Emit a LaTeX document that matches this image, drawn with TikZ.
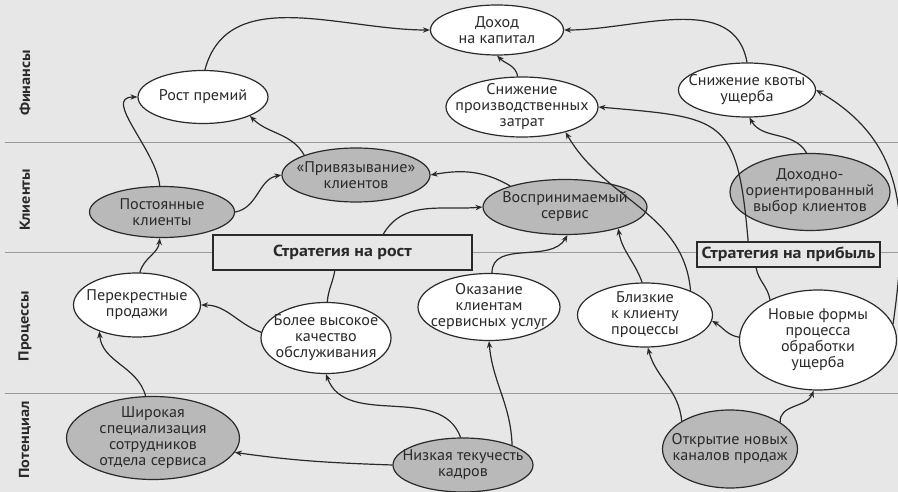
\documentclass[tikz,border=0pt]{standalone}
\usepackage{fontspec}
\setmainfont{PT Sans}[FakeStretch=1.04]
\newfontfamily\heavyfont{PT Sans}[FakeStretch=1.12]
\usetikzlibrary{shapes.geometric,arrows.meta}
\definecolor{bg}{HTML}{E7E7E7}
\definecolor{gfill}{HTML}{B9B9B9}
\definecolor{ink}{HTML}{2A2A2A}
\definecolor{lanec}{HTML}{9A9A9A}
\begin{document}
\begin{tikzpicture}[x=1pt,y=-1pt,
  ell/.style={ellipse,draw=ink,line width=1.2pt,inner sep=0pt,fill=white},
  gell/.style={ell,fill=gfill},
  txt/.style={align=center,font=\fontsize{15.5}{16}\selectfont,text=ink,inner sep=0pt},
  conn/.style={draw=ink,line width=1.2pt,-{Stealth[length=7pt,width=5.5pt]}},
  plain/.style={draw=ink,line width=1.2pt},
  stratbox/.style={draw=ink,line width=1.2pt,fill=bg,font=\fontsize{16}{18}\heavyfont\bfseries,text=ink,inner sep=0pt},
  lanelbl/.style={rotate=90,font=\fontsize{14.5}{16}\heavyfont\bfseries,text=ink}
]
\fill[bg] (0,0) rectangle (898,492);
\useasboundingbox (0,0) rectangle (898,492);
% lanes
\draw[lanec,line width=1pt] (5,143) -- (898,143);
\draw[lanec,line width=1pt] (5,253) -- (898,253);
\draw[lanec,line width=1pt] (5,393) -- (898,393);
\node[lanelbl] (lfin) at (25,83) {Финансы};
\node[lanelbl] (lcli) at (25,200) {Клиенты};
\node[lanelbl] (lpro) at (25,326) {Процессы};
\node[lanelbl] (lpot) at (25,440) {Потенциал};

% nodes
\node[ell,minimum width=133,minimum height=50,label={[txt]center:Доход\\на капитал}] (dk) at (497,30) {};
\node[ell,minimum width=130,minimum height=53,label={[txt]center:Рост премий}] (rp) at (203,97) {};
\node[ell,minimum width=152,minimum height=60,label={[txt]center:Снижение\\производственных\\затрат}] (spz) at (522,107) {};
\node[ell,minimum width=137,minimum height=54,label={[txt]center:Снижение квоты\\ущерба}] (skv) at (747,90) {};
\node[gell,minimum width=148,minimum height=54,label={[txt]center:«Привязывание»\\клиентов}] (prv) at (356,175) {};
\node[gell,minimum width=145,minimum height=51,label={[txt]center:Постоянные\\клиенты}] (pk) at (162,212) {};
\node[gell,minimum width=164,minimum height=55,label={[txt]center:Воспринимаемый\\сервис}] (vs) at (565,207) {};
\node[gell,minimum width=160,minimum height=77,label={[txt]center:Доходно-\\ориентированный\\выбор клиентов}] (dov) at (810,192) {};
\node[stratbox,minimum width=259,minimum height=35] (sr) at (342.5,252.5) {Стратегия на рост};
\node[stratbox,minimum width=183,minimum height=25] (spf) at (788.5,254.5) {Стратегия на прибыль};
\node[ell,minimum width=127,minimum height=64,label={[txt]center:Перекрестные\\продажи}] (pp) at (137,305) {};
\node[ell,minimum width=130,minimum height=71,label={[txt]center:Более высокое\\качество\\обслуживания}] (bvk) at (326,338) {};
\node[ell,minimum width=142,minimum height=67,label={[txt]center:Оказание\\клиентам\\сервисных услуг}] (ok) at (489,307) {};
\node[ell,minimum width=135,minimum height=64,label={[txt]center:Близкие\\к клиенту\\процессы}] (bk) at (645,315) {};
\node[ell,minimum width=157,minimum height=100,label={[txt]center:Новые формы\\процесса\\обработки\\ущерба}] (nf) at (818,340) {};
\node[gell,minimum width=173,minimum height=83,label={[txt]center:Широкая\\специализация\\сотрудников\\отдела сервиса}] (shir) at (153,438) {};
\node[gell,minimum width=140,minimum height=54,label={[txt]center:Низкая текучесть\\кадров}] (niz) at (463,465) {};
\node[gell,minimum width=135,minimum height=78,label={[txt]center:Открытие новых\\каналов продаж}] (ot) at (730,449) {};

% connectors
\draw[conn] (rp.86) to[out=75,in=180] (dk.west);
\draw[conn] (skv.90) to[out=100,in=0] (dk.east);
\draw[conn] (spz.98) to[out=100,in=-45] (dk.-90);
\draw[conn] (pk.95) to[out=95,in=180] (rp.west);
\draw[conn] (prv.159) to[out=120,in=-45] (rp.-22);
\draw[conn] (pk.east) to[out=10,in=190] (prv.west);
\draw[conn] (vs.159) to[out=150,in=10] (prv.east);
\draw[conn] (sr.24) to[out=60,in=185] (vs.west);
\draw[conn] (pp.85) to[out=75,in=-95] (pk.-95);
\draw[conn] (bvk.175) to[out=160,in=0] (pp.east);
\draw[plain] (bvk.88) to[out=85,in=-100] (sr.-113);
\draw[conn] (ok.85) to[out=90,in=-120] (vs.-85);
\draw[conn] (bk.95) to[out=110,in=-80] (vs.-22);
\draw[conn] (bk.28) to[out=95,in=-60] (spz.-30);
\draw[plain] (nf.140) to[out=100,in=-80] (spf.-158);
\draw[conn] (spf.162) to[out=95,in=-5,looseness=1.6] (spz.east);
\draw[conn] (nf.12) to[out=82,in=-30,looseness=1.1] (skv.east);
\draw[conn] (dov.95) to[out=120,in=-60] (skv.-85);
\draw[conn] (nf.178) to[out=170,in=-30] (bk.-5);
\draw[conn] (ot.150) to[out=95,in=-75] (bk.-85);
\draw[conn] (ot.28) to[out=95,in=-110] (nf.-95);
\draw[conn] (shir.100) to[out=105,in=-85] (pp.-145);
\draw[conn] (niz.west) to[out=178,in=-8] (shir.-10);
\draw[conn] (niz.95) to[out=110,in=-70] (bvk.-90);
\draw[conn] (niz.22) to[out=92,in=-85] (ok.-90);
\end{tikzpicture}
\end{document}
